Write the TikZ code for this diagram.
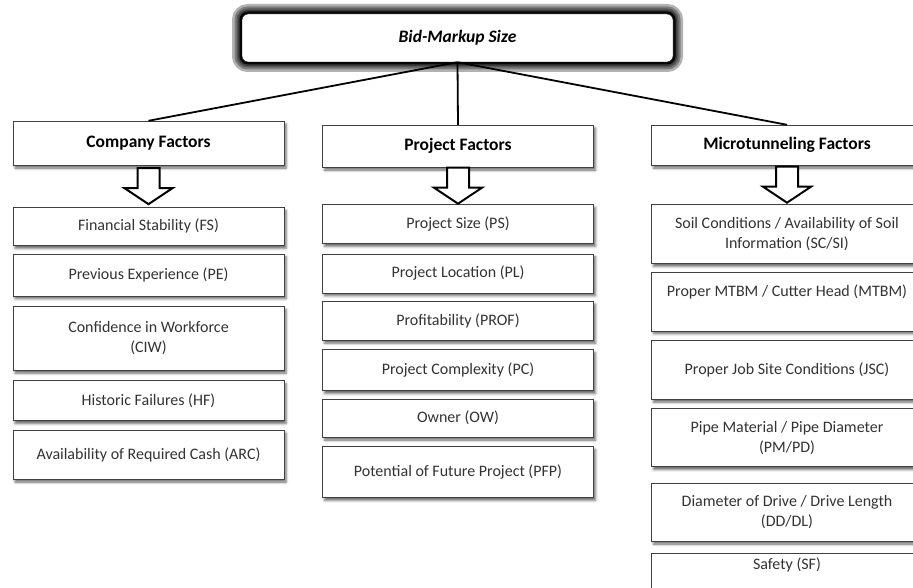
\documentclass[tikz,border=0pt]{standalone}
\usepackage{fontspec}
\setmainfont{Carlito}
\usetikzlibrary{positioning,calc,shadows.blur}

\tikzset{
  downarrow/.pic={
    \draw[line width=2pt, fill=white, line join=miter]
      (-11,-18) -- (11,-18) -- (11,2) -- (24,2) -- (0,18) -- (-24,2) -- (-11,2) -- cycle;
  }
}

\begin{document}
\begin{tikzpicture}[x=1pt, y=-1pt,
    every node/.style={font=\fontsize{16}{20}\selectfont, text=black!80},
    factor/.style={draw=black!75, fill=white, minimum width=271pt, inner sep=2pt, align=center,
      blur shadow={shadow xshift=2pt, shadow yshift=-3pt, shadow blur radius=2.5pt, shadow opacity=60}},
    group/.style={factor, minimum height=42pt, text=black, font=\fontsize{17.5}{21}\selectfont\bfseries},
    item/.style={factor, minimum height=39pt},
    glow/.style={preaction={draw=black, line width=#1, rounded corners=6pt, opacity=0.3}}
  ]
  \useasboundingbox (0,0) rectangle (913,588);

  % top of the tree
  \node[draw=black, fill=white, rounded corners=6pt, minimum width=431pt, minimum height=48pt,
    text=black, font=\fontsize{17.5}{21}\selectfont\bfseries\itshape,
    glow=20pt, glow=15pt, glow=11pt, glow=8pt,
    preaction={draw=black, line width=5pt, rounded corners=6pt, opacity=0.9}]
    (BMS) at (457.5,38) {Bid-Markup Size};

  \node[group, minimum height=44pt] (CF) at (148.5,143) {Company Factors};
  \node[group] (PF) at (458,146) {Project Factors};
  \node[group, minimum height=40pt] (MF) at (787,145) {Microtunneling Factors};

  \draw[line width=1.8pt] (BMS.south) -- (CF.north);
  \draw[line width=1.8pt] (BMS.south) -- (PF.north);
  \draw[line width=1.8pt] (BMS.south) -- (MF.north);

  % company factors
  \node[item, minimum height=38pt, below=42pt of CF] (FS) {Financial Stability (FS)};
  \node[item, minimum height=42pt, below=8pt of FS] (PE) {Previous Experience (PE)};
  \node[item, minimum height=64pt, below=10pt of PE] (CIW) {Confidence in Workforce\\(CIW)};
  \node[item, minimum height=40pt, below=10pt of CIW] (HF) {Historic Failures (HF)};
  \node[item, minimum height=49pt, below=9pt of HF] (ARC) {Availability of Required Cash (ARC)};

  % project factors
  \node[item, below=37pt of PF] (PS) {Project Size (PS)};
  \node[item, below=10pt of PS] (PL) {Project Location (PL)};
  \node[item, below=8pt of PL] (PROF) {Profitability (PROF)};
  \node[item, minimum height=41pt, below=9pt of PROF] (PC) {Project Complexity (PC)};
  \node[item, minimum height=38pt, below=8pt of PC] (OW) {Owner (OW)};
  \node[item, minimum height=51pt, below=9pt of OW] (PFP) {Potential of Future Project (PFP)};

  % microtunneling factors
  \node[item, minimum height=59pt, below=39pt of MF] (SCSI) {Soil Conditions / Availability of Soil\\Information (SC/SI)};
  \node[item, minimum height=59pt, text depth=22pt, below=8pt of SCSI] (MTBM) {Proper MTBM / Cutter Head (MTBM)};
  \node[item, minimum height=59pt, below=9pt of MTBM] (JSC) {Proper Job Site Conditions (JSC)};
  \node[item, minimum height=58pt, below=9pt of JSC] (PMPD) {Pipe Material / Pipe Diameter\\(PM/PD)};
  \node[item, minimum height=58pt, below=16pt of PMPD] (DDDL) {Diameter of Drive / Drive Length\\(DD/DL)};
  \node[item, minimum height=58pt, text depth=38pt, below=12pt of DDDL] (SF) {Safety (SF)};

  \pic at ($(CF.south)!0.5!(FS.north)$) {downarrow};
  \pic at ($(PF.south)!0.5!(PS.north)$) {downarrow};
  \pic at ($(MF.south)!0.5!(SCSI.north)$) {downarrow};
\end{tikzpicture}
\end{document}
